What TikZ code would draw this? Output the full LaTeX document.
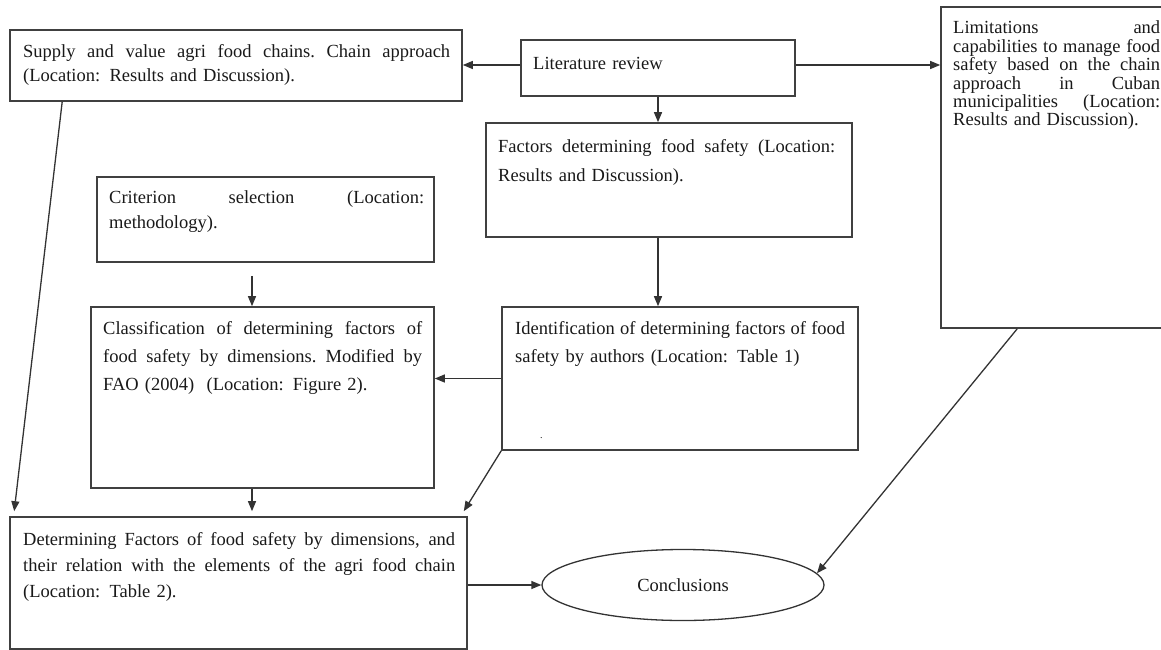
\documentclass[tikz,border=0pt]{standalone}
\usepackage{fontspec}
\setmainfont{Liberation Serif}
\usetikzlibrary{arrows.meta,shapes.geometric,calc}
\newcommand\jline[2]{\leavevmode\hbox to #1{\spaceskip=.25em plus 1fil\relax\xspaceskip=.25em plus 1fil\relax #2}}
\begin{document}
\begin{tikzpicture}[x=1pt,y=-1pt,
  box/.style={draw=black!75, line width=1.6pt, rectangle, inner sep=0pt},
  txt/.style={anchor=base west, inner sep=0pt, align=left, text=black!90},
  arr/.style={draw=black!80, line width=1.3pt, -{Triangle[length=10pt,width=8pt]}}]
\useasboundingbox (0,0) rectangle (1161,650);
% boxes
\node[box, minimum width=452pt, minimum height=71pt] (sup) at (236,65.5) {};
\node[box, minimum width=274pt, minimum height=56pt] (lit) at (658,68) {};
\node[box, minimum width=232pt, minimum height=321pt] (lim) at (1057,167.5) {};
\node[box, minimum width=366pt, minimum height=114pt] (fac) at (669,180) {};
\node[box, minimum width=337pt, minimum height=85pt] (cri) at (265.5,219.5) {};
\node[box, minimum width=343pt, minimum height=181pt] (cla) at (262.5,397.5) {};
\node[box, minimum width=356pt, minimum height=143pt] (ide) at (680,378.5) {};
\node[box, minimum width=457pt, minimum height=132pt] (det) at (238.5,583) {};
\node[draw=black!80, line width=1.3pt, ellipse, minimum width=282pt, minimum height=71pt, inner sep=0pt] (con) at (683,585) {};
% texts
\node[txt, text width=427pt, font=\fontsize{18.5pt}{24pt}\selectfont] (supt) at (23,58)
 {\jline{427pt}{Supply and value agri food chains. Chain approach}\\(Location: Results and Discussion).};
\node[txt, text width=240pt, font=\fontsize{18.5pt}{24pt}\selectfont] (litt) at (533,70) {Literature review};
\node[txt, text width=207pt, font=\fontsize{18.5pt}{18.4pt}\selectfont] (limt) at (953,34)
 {\jline{207pt}{Limitations and}\\
  \jline{207pt}{capabilities to manage food}\\
  \jline{207pt}{safety based on the chain}\\
  \jline{207pt}{approach in Cuban}\\
  \jline{207pt}{municipalities (Location:}\\
  Results and Discussion).};
\node[txt, text width=337pt, font=\fontsize{18.5pt}{28.3pt}\selectfont] (fact) at (498,153)
 {\jline{337pt}{Factors determining food safety (Location:}\\Results and Discussion).};
\node[txt, text width=315pt, font=\fontsize{18.5pt}{25pt}\selectfont] (crit) at (109,203)
 {\jline{315pt}{Criterion selection (Location:}\\methodology).};
\node[txt, text width=319pt, font=\fontsize{18.5pt}{28.3pt}\selectfont] (clat) at (103,334)
 {\jline{319pt}{Classification of determining factors of}\\
  \jline{319pt}{food safety by dimensions. Modified by}\\
  FAO (2004)~ (Location: Figure 2).};
\node[txt, text width=332pt, font=\fontsize{18.5pt}{28.3pt}\selectfont] (idet) at (515,334)
 {\jline{330pt}{Identification of determining factors of food}\\
  safety by authors (Location: Table 1)};
\node[txt, font=\fontsize{10pt}{12pt}\selectfont] (dot) at (540,438) {.};
\node[txt, text width=432pt, font=\fontsize{18.5pt}{26pt}\selectfont] (dett) at (23,545)
 {\jline{432pt}{Determining Factors of food safety by dimensions, and}\\
  \jline{432pt}{their relation with the elements of the agri food chain}\\
  (Location: Table 2).};
\node[font=\fontsize{18.5pt}{22pt}\selectfont, text=black!90, inner sep=0pt] (cont) at (con.center) {Conclusions};
% connectors
\draw[arr] ([yshift=3pt]lit.west) -- ([yshift=3pt]lit.west -| sup.east);
\draw[arr] ([yshift=3pt]lit.east) -- ([yshift=3pt]lit.east -| lim.west);
\draw[arr] (lit.south) -- (lit.south |- fac.north);
\draw[arr] (lit.south |- fac.south) -- (lit.south |- ide.north);
\draw[arr, shorten <=13pt] ([xshift=-13.5pt]cri.south) -- ([xshift=-13.5pt]cri.south |- cla.north);
\draw[arr] (ide.west) -- (ide.west -| cla.east);
\draw[arr, shorten >=5pt] ([xshift=-10.5pt]cla.south) -- ([xshift=-10.5pt]cla.south |- det.north);
\draw[arr] ([xshift=53pt]sup.south west) -- ([xshift=5pt,yshift=5pt]det.north west);
\draw[arr] (ide.south west) -- ([xshift=-4pt,yshift=5pt]det.north east);
\draw[arr] ([xshift=77pt]lim.south west) -- (con.5);
\draw[arr] (det.east |- con.west) -- (con.west);
\end{tikzpicture}
\end{document}
